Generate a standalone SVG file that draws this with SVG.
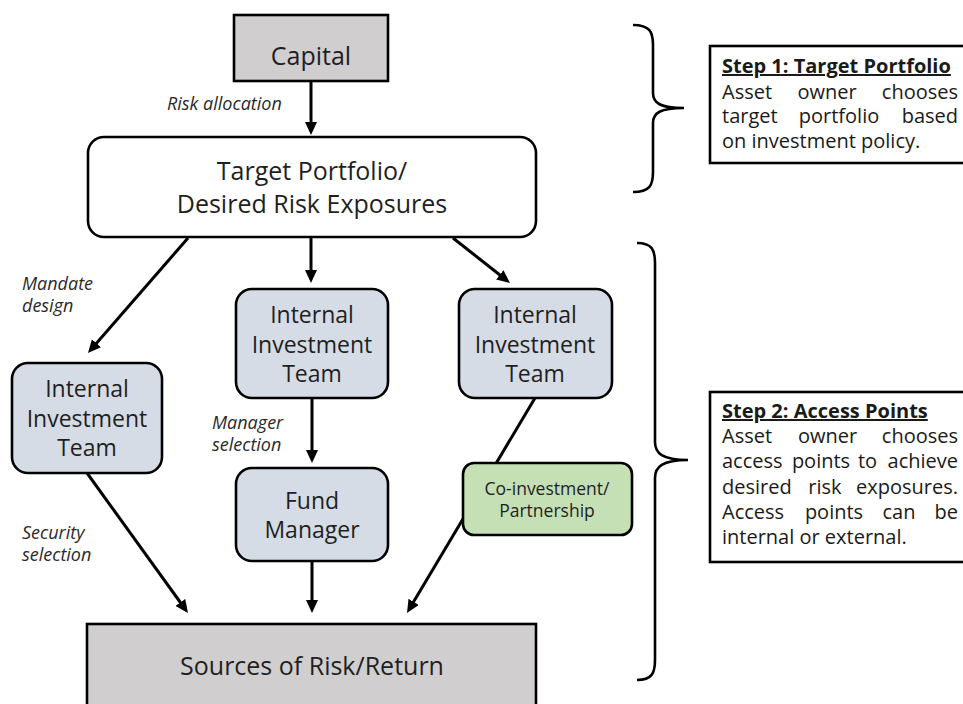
<svg xmlns="http://www.w3.org/2000/svg" width="963" height="704" viewBox="0 0 963 704">
<style>
.box{stroke:#000;stroke-width:2.6}
.gray{fill:#d0cece}
.blue{fill:#d6dce5}
.green{fill:#c5e0b4}
.white{fill:#fff}
.t{font-family:"Open Sans","Noto Sans","Liberation Sans",sans-serif;fill:#1f1f1f;text-anchor:middle}
.big{font-size:25px}
.mid{font-size:23px}
.sm{font-size:17.5px}
.lab{font-family:"Open Sans","Noto Sans","Liberation Sans",sans-serif;font-style:italic;font-size:18px;fill:#2a2a2a}
.st{font-family:"Open Sans","Noto Sans","Liberation Sans",sans-serif;font-size:20px;fill:#1a1a1a}
.stb{font-weight:bold;text-decoration:underline}
.e{text-anchor:end}
.m{text-anchor:middle}
.c{stroke:#000;stroke-width:3;fill:none;marker-end:url(#ah)}
.br{stroke:#000;stroke-width:2.6;fill:none}
</style>
<defs>
<marker id="ah" viewBox="0 0 13 12" refX="5" refY="6" markerWidth="13" markerHeight="12" markerUnits="userSpaceOnUse" orient="auto">
<path d="M0,0 L13,6 L0,12 z" fill="#000"/>
</marker>
</defs>
<rect width="963" height="704" fill="#fff"/>
<g id="connectors">
<line class="c" x1="311" y1="81" x2="311" y2="127"/>
<line class="c" x1="188" y1="238" x2="93.2" y2="347"/>
<line class="c" x1="311" y1="237" x2="311" y2="275"/>
<line class="c" x1="453" y1="238" x2="503.7" y2="278"/>
<line class="c" x1="312" y1="398" x2="312" y2="455"/>
<line class="c" x1="87" y1="473" x2="183.3" y2="606.5"/>
<line class="c" x1="312" y1="561" x2="312" y2="605"/>
<line class="c" x1="535" y1="398" x2="411.1" y2="606.1"/>
</g>
<g id="capital">
<rect class="box gray" x="234" y="15" width="154" height="66"/>
<text class="t big" x="311" y="65">Capital</text>
</g>
<g id="label-risk">
<text class="lab" x="167" y="110">Risk allocation</text>
</g>
<g id="target">
<rect class="box white" x="88" y="137" width="448" height="100" rx="16"/>
<text class="t big" x="312" y="180">Target Portfolio/</text>
<text class="t big" x="312" y="213">Desired Risk Exposures</text>
</g>
<g id="label-mandate">
<text class="lab" x="22" y="290">Mandate</text>
<text class="lab" x="22" y="312">design</text>
</g>
<g id="iit-left">
<rect class="box blue" x="12" y="363" width="150" height="110" rx="16"/>
<text class="t mid" x="87" y="397">Internal</text>
<text class="t mid" x="87" y="427">Investment</text>
<text class="t mid" x="87" y="456">Team</text>
</g>
<g id="iit-mid">
<rect class="box blue" x="236" y="289" width="152" height="109" rx="16"/>
<text class="t mid" x="312" y="323">Internal</text>
<text class="t mid" x="312" y="353">Investment</text>
<text class="t mid" x="312" y="382">Team</text>
</g>
<g id="iit-right">
<rect class="box blue" x="459" y="289" width="153" height="109" rx="16"/>
<text class="t mid" x="535" y="323">Internal</text>
<text class="t mid" x="535" y="353">Investment</text>
<text class="t mid" x="535" y="382">Team</text>
</g>
<g id="label-manager">
<text class="lab" x="212" y="429">Manager</text>
<text class="lab" x="212" y="451">selection</text>
</g>
<g id="fund">
<rect class="box blue" x="236" y="468" width="152" height="93" rx="16"/>
<text class="t mid" x="312" y="509">Fund</text>
<text class="t mid" x="312" y="538">Manager</text>
</g>
<g id="coinvest">
<rect class="box green" x="463" y="463" width="169" height="72" rx="11"/>
<text class="t sm" x="547" y="495">Co-investment/</text>
<text class="t sm" x="547" y="517">Partnership</text>
</g>
<g id="label-security">
<text class="lab" x="22" y="539">Security</text>
<text class="lab" x="22" y="561">selection</text>
</g>
<g id="sources">
<rect class="box gray" x="87" y="624" width="449" height="95"/>
<text class="t big" x="312" y="675">Sources of Risk/Return</text>
</g>
<g id="brace1">
<path class="br" d="M633,25 C650,25 653,32 653,45 L653,93 C653,103 660,108 684,108 C660,108 653,113 653,123 L653,172 C653,185 650,192 633,192"/>
</g>
<g id="brace2">
<path class="br" d="M637,243 C652,243 655,250 655,263 L655,442 C655,453 662,460 688,460 C662,460 655,467 655,478 L655,660 C655,673 652,680 637,680"/>
</g>
<g id="step1">
<rect class="box white" x="710" y="46" width="265" height="117"/>
<text class="st stb" x="722" y="73">Step 1: Target Portfolio</text>
<text class="st" x="722" y="99">Asset</text>
<text class="st m" x="827" y="99">owner</text>
<text class="st e" x="958" y="99">chooses</text>
<text class="st" x="722" y="123">target</text>
<text class="st m" x="839" y="123">portfolio</text>
<text class="st e" x="958" y="123">based</text>
<text class="st" x="722" y="148">on investment policy.</text>
</g>
<g id="step2">
<rect class="box white" x="710" y="392" width="265" height="170"/>
<text class="st stb" x="722" y="418">Step 2: Access Points</text>
<text class="st" x="722" y="443">Asset</text>
<text class="st m" x="827.5" y="443">owner</text>
<text class="st e" x="958" y="443">chooses</text>
<text class="st" x="722" y="468">access</text>
<text class="st m" x="821" y="468">points</text>
<text class="st m" x="867.5" y="468">to</text>
<text class="st e" x="958" y="468">achieve</text>
<text class="st" x="722" y="494">desired</text>
<text class="st m" x="825" y="494">risk</text>
<text class="st e" x="958" y="494">exposures.</text>
<text class="st" x="722" y="519">Access</text>
<text class="st m" x="834" y="519">points</text>
<text class="st m" x="899" y="519">can</text>
<text class="st e" x="958" y="519">be</text>
<text class="st" x="722" y="544">internal or external.</text>
</g>
</svg>
